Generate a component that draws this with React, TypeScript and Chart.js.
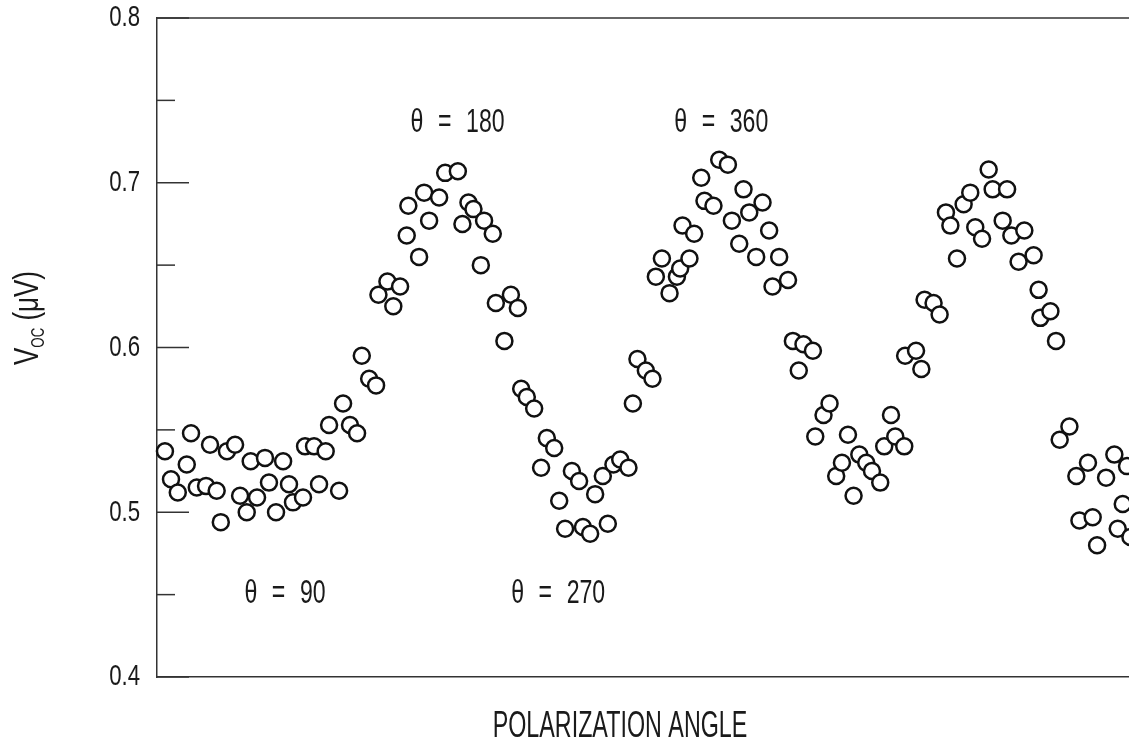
import React, { useEffect, useRef } from "react";
import { Chart, registerables } from "chart.js";

Chart.register(...registerables);

// Polarization angle (deg, estimated) for each measurement
const angles: number[] = [
  -14.6, -10.5, -5.9, 0.2, 3.1, 7.0, 13.3, 16.0, 20.5, 23.3, 27.5, 33.0, 36.4, 40.9, 43.6, 47.9,
  53.3, 56.0, 60.8, 65.6, 69.6, 72.3, 79.1, 80.5, 86.6, 90.0, 94.5, 96.8, 103.6, 106.3, 111.0,
  115.8, 119.0, 124.0, 128.7, 130.3, 136.4, 140.4, 145.0, 149.5, 150.6, 157.9, 161.3, 164.7,
  171.5, 175.6, 184.2, 187.3, 191.4, 194.8, 199.8, 202.0, 207.9, 210.0, 215.8, 220.2, 224.9,
  227.2, 231.0, 236.0, 240.7, 244.6, 249.6, 253.0, 257.0, 261.6, 266.5, 269.1, 274.0, 277.4,
  282.6, 286.0, 289.8, 294.4, 300.0, 303.0, 306.1, 311.8, 316.3, 318.6, 322.7, 327.9, 332.9,
  335.1, 336.7, 341.4, 344.6, 349.4, 351.6, 357.7, 361.6, 367.5, 370.2, 375.2, 378.1, 382.0,
  386.7, 391.0, 395.5, 397.8, 402.3, 408.3, 411.6, 415.6, 418.8, 425.2, 426.8, 432.4, 436.5,
  441.0, 444.9, 449.0, 452.8, 456.7, 461.4, 465.3, 470.9, 473.6, 478.2, 481.1, 487.2, 487.8,
  495.2, 498.8, 501.0, 507.1, 511.2, 515.5, 518.5, 523.0, 527.5, 532.0, 535.4, 540.0, 544.5,
  547.2, 554.0, 557.0, 559.9, 564.8, 568.7, 575.0, 578.4, 579.6, 586.4, 590.2, 592.7, 599.3,
  604.0, 606.1, 611.9, 615.1, 618.1, 624.2, 629.8, 632.1, 635.5, 638.4, 640.7,
];

// Open-circuit voltage (µV)
const voc: number[] = [
  0.537, 0.520, 0.512, 0.529, 0.548, 0.515, 0.516, 0.541, 0.513, 0.494, 0.537, 0.541, 0.510,
  0.500, 0.531, 0.509, 0.533, 0.518, 0.500, 0.531, 0.517, 0.506, 0.509, 0.540, 0.540, 0.517,
  0.537, 0.553, 0.513, 0.566, 0.553, 0.548, 0.595, 0.581, 0.577, 0.632, 0.640, 0.625, 0.637,
  0.668, 0.686, 0.655, 0.694, 0.677, 0.691, 0.706, 0.707, 0.675, 0.688, 0.684, 0.650, 0.677,
  0.669, 0.627, 0.604, 0.632, 0.624, 0.575, 0.570, 0.563, 0.527, 0.545, 0.539, 0.507, 0.490,
  0.525, 0.519, 0.491, 0.487, 0.511, 0.522, 0.493, 0.529, 0.532, 0.527, 0.566, 0.593, 0.586,
  0.581, 0.643, 0.654, 0.633, 0.643, 0.648, 0.674, 0.654, 0.669, 0.703, 0.689, 0.686, 0.714,
  0.711, 0.677, 0.663, 0.696, 0.682, 0.655, 0.688, 0.671, 0.637, 0.655, 0.641, 0.604, 0.586,
  0.602, 0.598, 0.546, 0.559, 0.566, 0.522, 0.530, 0.547, 0.510, 0.535, 0.530, 0.525, 0.518,
  0.540, 0.559, 0.546, 0.540, 0.595, 0.598, 0.587, 0.629, 0.627, 0.620, 0.682, 0.674, 0.654,
  0.687, 0.694, 0.673, 0.666, 0.708, 0.696, 0.677, 0.696, 0.668, 0.652, 0.671, 0.656, 0.635,
  0.618, 0.622, 0.604, 0.544, 0.552, 0.522, 0.495, 0.530, 0.497, 0.480, 0.521, 0.535, 0.490,
  0.505, 0.528, 0.485,
];

const yMajorTicks: number[] = [0.4, 0.5, 0.6, 0.7, 0.8];
const yMinorTicks: number[] = [0.45, 0.55, 0.65, 0.75];

const annotationLabels: string[] = ["θ = 90", "θ = 180", "θ = 270", "θ = 360"];
const annotationX: number[] = [66.9, 184.0, 252.3, 363.0];
const annotationY: number[] = [0.4504, 0.7366, 0.4504, 0.7366];

const xTitle = "POLARIZATION ANGLE";
const yTitleMain = "V";
const yTitleSub = "OC";
const yTitleUnit = " (μV)";

const FONT = '"Liberation Sans", Arial, sans-serif';
const INK = "#1a1a1a";

function drawScaledText(
  ctx: CanvasRenderingContext2D,
  text: string,
  x: number,
  y: number,
  size: number,
  sx: number,
  align: CanvasTextAlign,
  wordSpacing = 0
) {
  ctx.save();
  ctx.translate(x, y);
  ctx.scale(sx, 1);
  ctx.font = `${size}px ${FONT}`;
  ctx.fillStyle = INK;
  ctx.textAlign = align;
  ctx.textBaseline = "middle";
  (ctx as any).wordSpacing = `${wordSpacing}px`;
  ctx.fillText(text, 0, 0);
  ctx.restore();
}

const decorPlugin = {
  id: "decor",
  beforeDatasetsDraw(chart: any) {
    const { ctx, chartArea, scales } = chart;
    const ys = scales.y;
    ctx.save();
    ctx.strokeStyle = "#333";
    ctx.lineWidth = 1.5;
    yMajorTicks.forEach((v) => {
      const py = ys.getPixelForValue(v);
      ctx.beginPath();
      ctx.moveTo(chartArea.left, py);
      ctx.lineTo(chartArea.left + 32, py);
      ctx.stroke();
    });
    yMinorTicks.forEach((v) => {
      const py = ys.getPixelForValue(v);
      ctx.beginPath();
      ctx.moveTo(chartArea.left, py);
      ctx.lineTo(chartArea.left + 18, py);
      ctx.stroke();
    });
    ctx.beginPath();
    ctx.moveTo(chartArea.left, chartArea.top);
    ctx.lineTo(chartArea.right, chartArea.top);
    ctx.stroke();
    ctx.restore();
  },
  afterDraw(chart: any) {
    const { ctx, chartArea, scales } = chart;
    const xs = scales.x;
    const ys = scales.y;
    // y tick labels
    yMajorTicks.forEach((v) => {
      drawScaledText(ctx, v.toFixed(1), chartArea.left - 17, ys.getPixelForValue(v), 30, 0.74, "right");
    });
    // annotations
    annotationLabels.forEach((t, i) => {
      drawScaledText(
        ctx,
        t,
        xs.getPixelForValue(annotationX[i]),
        ys.getPixelForValue(annotationY[i]),
        34,
        0.68,
        "center",
        12
      );
    });
    // x-axis title
    drawScaledText(ctx, xTitle, 620, 727, 37, 0.63, "center");
    // y-axis title with subscript (rotated)
    ctx.save();
    ctx.translate(38, 365);
    ctx.rotate(-Math.PI / 2);
    ctx.scale(0.74, 1);
    ctx.fillStyle = INK;
    ctx.textAlign = "left";
    ctx.textBaseline = "alphabetic";
    ctx.font = `35px ${FONT}`;
    ctx.fillText(yTitleMain, 0, 0);
    let w = ctx.measureText(yTitleMain).width;
    ctx.font = `18px ${FONT}`;
    ctx.fillText(yTitleSub, w, 6);
    w += ctx.measureText(yTitleSub).width;
    ctx.font = `35px ${FONT}`;
    ctx.fillText(yTitleUnit, w, 0);
    ctx.restore();
  },
};

export default function App() {
  const ref = useRef<HTMLCanvasElement | null>(null);

  useEffect(() => {
    if (!ref.current) return;
    const points = angles.map((a, i) => ({ x: a, y: voc[i] }));
    const chart = new Chart(ref.current, {
      type: "scatter",
      data: {
        datasets: [
          {
            label: "Voc",
            data: points,
            pointRadius: 8,
            pointHoverRadius: 8,
            pointBorderWidth: 2.5,
            pointBorderColor: "#111",
            pointBackgroundColor: "#ffffff",
            borderColor: "#111",
            backgroundColor: "#ffffff",
            clip: false,
          },
        ],
      },
      options: {
        responsive: false,
        animation: false,
        devicePixelRatio: 1,
        layout: { autoPadding: false, padding: { top: 18, left: 0, right: 0, bottom: 0 } },
        plugins: {
          legend: { display: false },
          tooltip: { enabled: false },
          title: { display: false },
        },
        scales: {
          x: {
            type: "linear",
            min: -20,
            max: 654,
            grid: { display: false },
            border: { display: true, color: "#333", width: 1.5 },
            ticks: { display: false },
            afterFit: (s: any) => {
              s.height = 69;
            },
          },
          y: {
            type: "linear",
            min: 0.4,
            max: 0.8,
            grid: { display: true, drawOnChartArea: false, drawTicks: false },
            border: { display: true, color: "#333", width: 1.5 },
            ticks: { display: false, stepSize: 0.1 },
            afterFit: (s: any) => {
              s.width = 157;
            },
          },
        },
      },
      plugins: [decorPlugin],
    });
    return () => chart.destroy();
  }, []);

  return (
    <div
      style={{
        position: "absolute",
        left: 0,
        top: 0,
        width: 1129,
        height: 746,
        overflow: "hidden",
        background: "#fff",
      }}
    >
      <canvas ref={ref} width={1150} height={746} style={{ display: "block" }} />
    </div>
  );
}
